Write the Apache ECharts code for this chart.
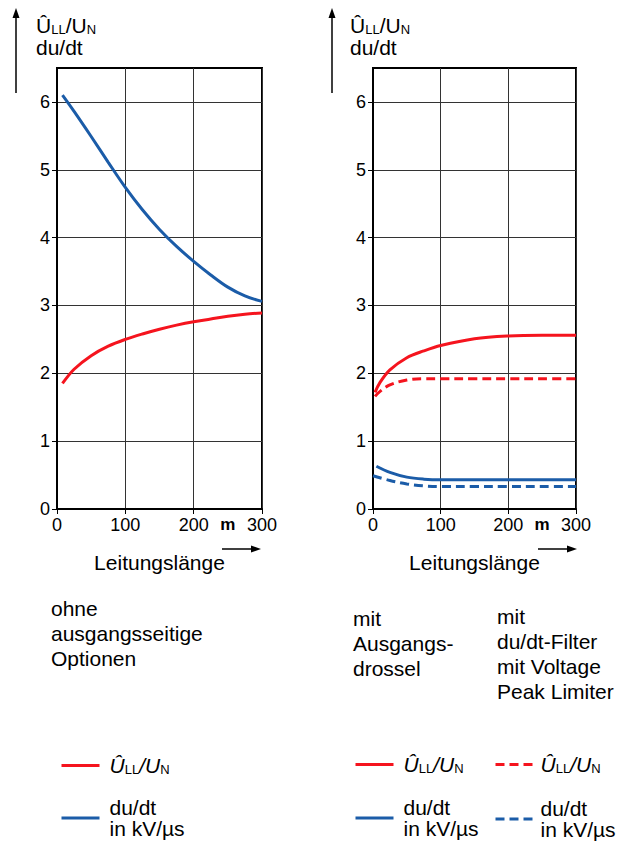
<!DOCTYPE html>
<html>
<head>
<meta charset="utf-8">
<script src="https://cdn.jsdelivr.net/npm/echarts@6/dist/echarts.min.js"></script>
<style>
html, body { margin: 0; padding: 0; background: #fff; }
#box { width: 618px; height: 841px; }
</style>
</head>
<body>
<div id="box"></div>
<script>
var FONT = "'Liberation Sans', Arial, sans-serif";

var xOhne = [8, 25, 50, 75, 100, 125, 150, 175, 200, 225, 250, 275, 300];
var duDtOhne = [6.1, 5.86, 5.49, 5.11, 4.74, 4.41, 4.12, 3.87, 3.65, 3.45, 3.27, 3.14, 3.06];
var ullOhne = [1.85, 2.06, 2.26, 2.4, 2.5, 2.58, 2.65, 2.71, 2.76, 2.8, 2.84, 2.87, 2.89];

var xDrosselU = [3, 10, 25, 50, 75, 100, 150, 200, 250, 300];
var ullDrossel = [1.72, 1.86, 2.05, 2.23, 2.33, 2.41, 2.51, 2.55, 2.56, 2.56];
var xDrosselDu = [5, 25, 50, 75, 100, 150, 200, 250, 300];
var duDtDrossel = [0.63, 0.54, 0.47, 0.44, 0.43, 0.43, 0.43, 0.43, 0.43];

var xFilterU = [3, 10, 25, 50, 75, 100, 150, 200, 250, 300];
var ullFilter = [1.66, 1.73, 1.83, 1.9, 1.92, 1.92, 1.92, 1.92, 1.92, 1.92];
var xFilterDu = [0, 25, 50, 75, 100, 150, 200, 250, 300];
var duDtFilter = [0.49, 0.42, 0.37, 0.34, 0.33, 0.33, 0.33, 0.33, 0.33];

var xTicks = [0, 100, 200, 300];
var xLabels = [0, 100, 200, 250, 300];
var yTicks = [0, 1, 2, 3, 4, 5, 6];

var RED = '#f5141e';
var BLUE = '#1b5ca8';

function pair(xs, ys) {
  return xs.map(function (x, i) { return [x, ys[i]]; });
}

function line(name, idx, xs, ys, color, dashed) {
  return {
    name: name, type: 'line', xAxisIndex: idx, yAxisIndex: idx,
    data: pair(xs, ys), smooth: 0.35, symbol: 'none',
    lineStyle: { color: color, width: 3, type: dashed ? [9, 5] : 'solid' },
    itemStyle: { color: color }, z: 5, silent: true
  };
}

function xAx(idx) {
  return {
    type: 'value', gridIndex: idx, min: 0, max: 300, interval: 50,
    name: 'Leitungslänge', nameLocation: 'middle', nameGap: 43,
    nameTextStyle: { fontSize: 21, color: '#000', fontFamily: FONT },
    axisLine: { show: true, lineStyle: { color: '#000', width: 2 } },
    axisTick: { show: true, customValues: xTicks, length: 5, lineStyle: { color: '#000', width: 1 } },
    axisLabel: {
      customValues: xLabels, fontSize: 18, color: '#000', margin: 7, fontFamily: FONT,
      formatter: function (v) { return v === 250 ? '{b|m}' : String(v); },
      rich: { b: { fontWeight: 'bold', fontSize: 17, fontFamily: FONT, color: '#000' } }
    },
    splitLine: { show: true, lineStyle: { color: '#333', width: 1 } }
  };
}

function yAx(idx) {
  return {
    type: 'value', gridIndex: idx, min: 0, max: 6.5, interval: 0.5,
    axisLine: { show: true, lineStyle: { color: '#000', width: 2 } },
    axisTick: { show: true, customValues: yTicks, length: 5, lineStyle: { color: '#000', width: 1 } },
    axisLabel: { customValues: yTicks, fontSize: 18, color: '#000', margin: 7, fontFamily: FONT },
    splitLine: { show: true, lineStyle: { color: '#333', width: 1 } }
  };
}

var subRich = {
  m: { fontSize: 21, lineHeight: 21, fontFamily: FONT, fill: '#000' },
  i: { fontSize: 21, lineHeight: 21, fontStyle: 'italic', fontFamily: FONT, color: '#000' },
  s: { fontSize: 13, lineHeight: 10, verticalAlign: 'bottom', fontFamily: FONT, color: '#000' }
};

var legendText = {
  L1: '{i|Û}{s|LL}{i|/U}{s|N}', L2: 'du/dt\nin kV/µs',
  R1: '{i|Û}{s|LL}{i|/U}{s|N}', R2: 'du/dt\nin kV/µs',
  R3: '{i|Û}{s|LL}{i|/U}{s|N}', R4: 'du/dt\nin kV/µs'
};

function legend(left, top, gap, names, pad) {
  return {
    orient: 'vertical', left: left, top: top, height: 100, padding: 0,
    itemGap: gap, itemWidth: 38, itemHeight: 14,
    selectedMode: false, data: names,
    lineStyle: { width: 3 }, itemStyle: { opacity: 0 },
    formatter: function (n) { return legendText[n]; },
    textStyle: { fontSize: 21, lineHeight: 21, color: '#000', fontFamily: FONT, padding: [0, 0, 0, pad], rich: subRich }
  };
}

function arrow(x1, y1, x2, y2) {
  var els = [{ type: 'line', shape: { x1: x1, y1: y1, x2: x2, y2: y2 }, style: { stroke: '#000', lineWidth: 1.5 } }];
  if (x1 === x2) {
    els.push({ type: 'polygon', shape: { points: [[x2, y2 - 7], [x2 - 3.5, y2 + 3], [x2 + 3.5, y2 + 3]] }, style: { fill: '#000' } });
  } else {
    els.push({ type: 'polygon', shape: { points: [[x2 + 7, y2], [x2 - 3, y2 - 3.5], [x2 - 3, y2 + 3.5]] }, style: { fill: '#000' } });
  }
  return els;
}

function label(x, y, text, lh, size) {
  return {
    type: 'text', x: x, y: y,
    style: { text: text, fontSize: size || 21, lineHeight: lh, fontFamily: FONT, fill: '#000', verticalAlign: 'top', rich: subRich }
  };
}

var chart = echarts.init(document.getElementById('box'), null, { renderer: 'svg' });

var graphics = []
  .concat(arrow(16, 93, 16, 15))
  .concat(arrow(332, 93, 332, 15))
  .concat(arrow(222, 549, 254, 549))
  .concat(arrow(538, 549, 570, 549))
  .concat([
    label(36, 15, '{m|Û}{s|LL}{m|/U}{s|N}', 21),
    label(36, 37, 'du/dt', 21),
    label(350, 15, '{m|Û}{s|LL}{m|/U}{s|N}', 21),
    label(350, 37, 'du/dt', 21),
    label(51, 596, 'ohne\nausgangsseitige\nOptionen', 25),
    label(353, 606, 'mit\nAusgangs-\ndrossel', 25),
    label(497, 604, 'mit\ndu/dt-Filter\nmit Voltage\nPeak Limiter', 25)
  ]);

var option = {
  backgroundColor: '#fff',
  animation: false,
  textStyle: { fontFamily: FONT },
  grid: [
    { left: 57, top: 68, width: 205, height: 441, show: true, borderColor: '#000', borderWidth: 2 },
    { left: 373, top: 68, width: 203, height: 441, show: true, borderColor: '#000', borderWidth: 2 }
  ],
  xAxis: [xAx(0), xAx(1)],
  yAxis: [yAx(0), yAx(1)],
  legend: [
    legend(60, 755, 21, ['L1', 'L2'], 5),
    legend(354, 754, 22, ['R1', 'R2'], 5),
    legend(494, 754, 23, ['R3', 'R4'], 2)
  ],
  graphic: graphics,
  series: [
    line('L1', 0, xOhne, ullOhne, RED, false),
    line('L2', 0, xOhne, duDtOhne, BLUE, false),
    line('R1', 1, xDrosselU, ullDrossel, RED, false),
    line('R2', 1, xDrosselDu, duDtDrossel, BLUE, false),
    line('R3', 1, xFilterU, ullFilter, RED, true),
    line('R4', 1, xFilterDu, duDtFilter, BLUE, true)
  ]
};
chart.setOption(option);
</script>
</body>
</html>
